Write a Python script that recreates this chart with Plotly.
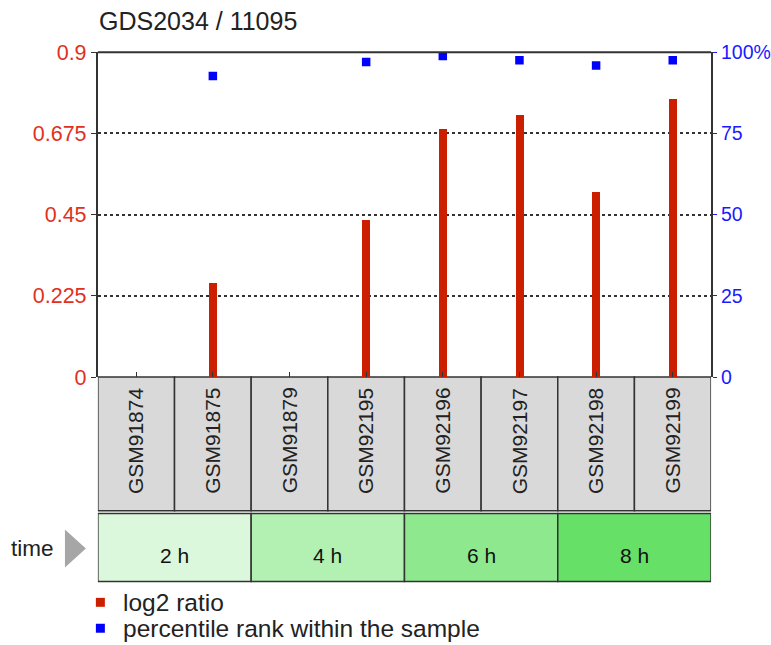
import plotly.graph_objects as go

W, H = 771, 645

samples = ["GSM91874", "GSM91875", "GSM91879", "GSM92195",
           "GSM92196", "GSM92197", "GSM92198", "GSM92199"]
log2_ratio = [None, 0.26, None, 0.436, 0.688, 0.726, 0.513, 0.771]
percentile = [None, 92.7, None, 97.0, 98.8, 97.5, 95.9, 97.5]
time_groups = ["2 h", "4 h", "6 h", "8 h"]
group_sizes = [2, 2, 2, 2]
group_colors = ["#dcf8dc", "#b3f1b3", "#8ee98e", "#66e066"]
left_ticks = [0, 0.225, 0.45, 0.675, 0.9]
left_ticktext = ["0", "0.225", "0.45", "0.675", "0.9"]
right_ticks = [0, 25, 50, 75, 100]
right_ticktext = ["0", "25", "50", "75", "100%"]

RED = "#e0301e"
BAR = "#cc1f00"
BLUE = "#1a1aff"
FONT = "Liberation Sans, Arial, sans-serif"
TXT = "#222222"


def py(px):
    # layout pixel row -> paper fraction (with screen-capture compensation)
    p = (px - 10.7) / 0.966
    return 1 - p / H


def pxx(px):
    return px / W


xs = list(range(len(samples)))

fig = go.Figure()
fig.add_trace(go.Bar(x=xs, y=log2_ratio, width=0.105, marker=dict(color=BAR, line=dict(width=0)),
                     yaxis="y", showlegend=False))
fig.add_trace(go.Scatter(x=xs, y=percentile, mode="markers",
                         marker=dict(symbol="square", size=8.5, color="#0000ff"),
                         yaxis="y2", showlegend=False))

shapes = []
annotations = []
# sample boxes
for i, s in enumerate(samples):
    shapes.append(dict(type="rect", xref="x", yref="paper", x0=i - 0.5, x1=i + 0.5,
                       y0=py(512), y1=py(378), fillcolor="#d9d9d9",
                       line=dict(color="#333333", width=1.5), layer="below"))
    annotations.append(dict(xref="x", yref="paper", x=i, y=py(442), text=s, showarrow=False,
                            textangle=-90, font=dict(family=FONT, size=21, color=TXT),
                            xanchor="center", yanchor="middle"))
# time groups
start = 0
for g, n, c in zip(time_groups, group_sizes, group_colors):
    shapes.append(dict(type="rect", xref="x", yref="paper", x0=start - 0.5, x1=start + n - 0.5,
                       y0=py(583), y1=py(515), fillcolor=c,
                       line=dict(color="#333333", width=1.5), layer="below"))
    annotations.append(dict(xref="x", yref="paper", x=start + (n - 1) / 2, y=py(557), text=g,
                            showarrow=False, font=dict(family=FONT, size=21, color="#111111"),
                            xanchor="center", yanchor="middle"))
    start += n

# time label and arrow
annotations.append(dict(xref="paper", yref="paper", x=pxx(9), y=py(550), text="time", showarrow=False,
                        xanchor="left", yanchor="middle",
                        font=dict(family=FONT, size=22.5, color=TXT)))
shapes.append(dict(type="path", xref="paper", yref="paper",
                   path=f"M {pxx(65)} {py(531)} L {pxx(65)} {py(569)} L {pxx(86)} {py(550)} Z",
                   fillcolor="#a6a6a6", line=dict(width=0)))

# title
annotations.append(dict(xref="paper", yref="paper", x=pxx(97), y=py(21), text="GDS2034 / 11095",
                        showarrow=False, xanchor="left", yanchor="middle",
                        font=dict(family=FONT, size=25, color=TXT)))

# legend
for ypx, col, label in [(604, "#cc1f00", "log2 ratio"), (630, "#0000ff", "percentile rank within the sample")]:
    shapes.append(dict(type="rect", xref="paper", yref="paper", x0=pxx(96), x1=pxx(105),
                       y0=py(ypx + 4.5), y1=py(ypx - 4.5), fillcolor=col, line=dict(width=0)))
    annotations.append(dict(xref="paper", yref="paper", x=pxx(121), y=py(ypx), text=label,
                            showarrow=False, xanchor="left", yanchor="middle",
                            font=dict(family=FONT, size=24.5, color=TXT)))

fig.update_layout(
    width=W, height=H,
    margin=dict(l=0, r=0, t=0, b=0),
    paper_bgcolor="white", plot_bgcolor="white",
    bargap=0,
    xaxis=dict(domain=[pxx(98), pxx(712)], range=[-0.5, len(samples) - 0.5],
               tickvals=xs, showticklabels=False, ticks="inside", ticklen=5, tickcolor="#333333",
               showgrid=False, zeroline=False, showline=False, fixedrange=True),
    yaxis=dict(domain=[py(378), py(52)], range=[0, 0.9], tickvals=left_ticks, ticktext=left_ticktext,
               ticks="outside", ticklen=5, tickcolor="#333333",
               tickfont=dict(family=FONT, size=21.5, color=RED),
               showgrid=True, gridcolor="#333333", griddash="dot", gridwidth=1.5,
               zeroline=False, showline=True, linecolor="#333333", linewidth=2, mirror=False),
    yaxis2=dict(overlaying="y", side="right", range=[0, 100], tickvals=right_ticks, ticktext=right_ticktext,
                ticks="outside", ticklen=4, tickcolor=BLUE,
                tickfont=dict(family=FONT, size=19.5, color=BLUE),
                showgrid=False, zeroline=False, showline=True, linecolor="#333333", linewidth=2),
    shapes=shapes + [dict(type="line", xref="paper", yref="paper", x0=pxx(98), x1=pxx(712),
                          y0=py(52), y1=py(52), line=dict(color="#333333", width=2))],
    annotations=annotations,
)

fig.write_html("out.html", config={"displayModeBar": False},
               post_script="document.body.style.margin='0';document.body.style.overflow='hidden';")
